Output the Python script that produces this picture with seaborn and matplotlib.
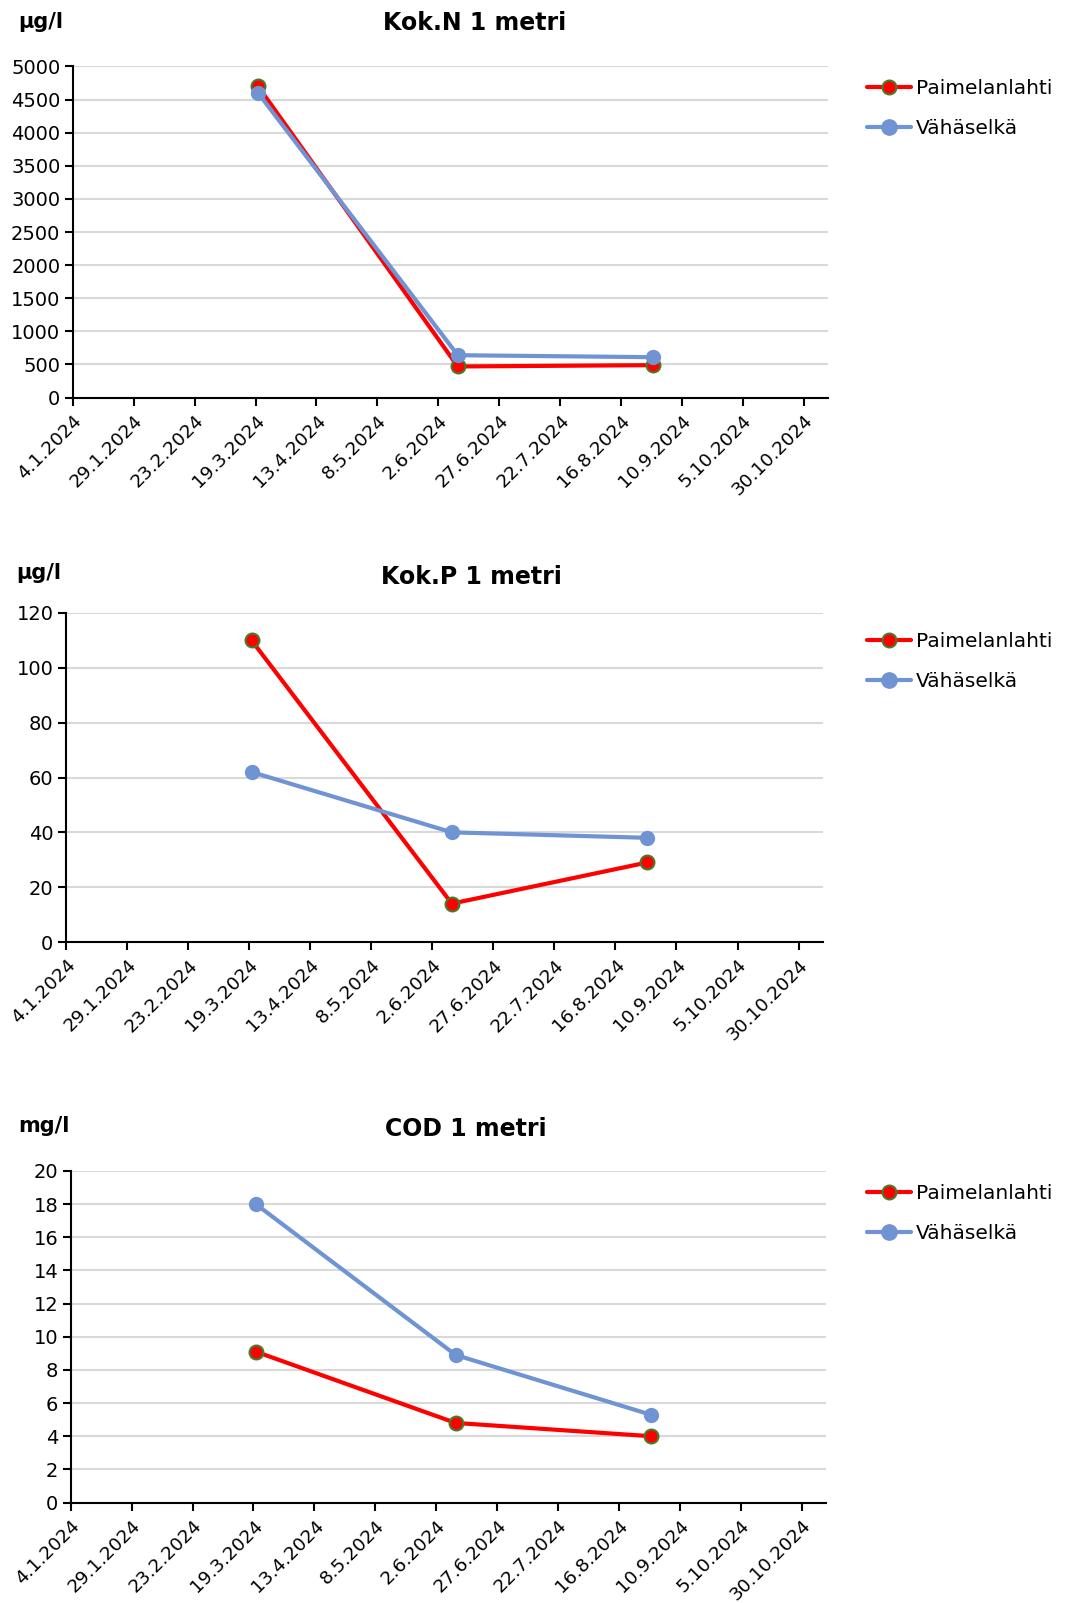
import matplotlib
matplotlib.use("Agg")
import matplotlib.pyplot as plt
import seaborn as sns
import pandas as pd
import numpy as np
from matplotlib.lines import Line2D

sns.set_theme(style="white")
plt.rcParams['font.family'] = ['DejaVu Sans']

# ---- data ----
sample_dates = ["2024-03-20", "2024-06-10", "2024-08-29"]
sites = ["Paimelanlahti", "Vähäselkä"]

kokN_paimelanlahti = [4700, 470, 490]
kokN_vahaselka = [4600, 640, 610]

kokP_paimelanlahti = [110, 14, 29]
kokP_vahaselka = [62, 40, 38]

cod_paimelanlahti = [9.1, 4.8, 4.0]
cod_vahaselka = [18, 8.9, 5.3]

titles = ["Kok.N 1 metri", "Kok.P 1 metri", "COD 1 metri"]
units = ["µg/l", "µg/l", "mg/l"]
ymaxes = [5000, 120, 20]
ysteps = [500, 20, 2]

tick_start = "2024-01-04"
n_ticks = 13
tick_step_days = 25
x_end = "2024-11-09"

series = [
    (kokN_paimelanlahti, kokN_vahaselka),
    (kokP_paimelanlahti, kokP_vahaselka),
    (cod_paimelanlahti, cod_vahaselka),
]

W, H = 1072, 1603
fig = plt.figure(figsize=(W / 100, H / 100), dpi=100)

# pixel boxes: left, right, top, bottom
boxes = [
    (72.9, 828, 66.4, 397.6),
    (66.0, 823, 613, 942),
    (70.7, 826, 1171, 1502.5),
]
title_pos = [(475, 23.5), (471, 577), (466, 1129.5)]
unit_pos = [(41, 22.5), (39, 573), (44, 1126)]
legend_pos = [(867, 79), (867, 632), (867, 1184)]

red = "#ff0000"
red_edge = "#4a7a2a"
blue = "#6f93d3"

ticks = pd.date_range(tick_start, periods=n_ticks, freq=f"{tick_step_days}D")

for i, (pa, va) in enumerate(series):
    l, r, t, b = boxes[i]
    ax = fig.add_axes([l / W, 1 - b / H, (r - l) / W, (b - t) / H])
    df = pd.DataFrame({
        "date": pd.to_datetime(sample_dates * 2),
        "value": list(pa) + list(va),
        "site": [sites[0]] * 3 + [sites[1]] * 3,
    })
    sns.lineplot(data=df[df.site == sites[0]], x="date", y="value", ax=ax,
                 color=red, linewidth=3, marker="o", markersize=10,
                 markerfacecolor=red, markeredgecolor=red_edge, markeredgewidth=1.5,
                 legend=False, zorder=3)
    sns.lineplot(data=df[df.site == sites[1]], x="date", y="value", ax=ax,
                 color=blue, linewidth=3, marker="o", markersize=11,
                 markerfacecolor=blue, markeredgecolor=blue, markeredgewidth=0,
                 legend=False, zorder=4)
    ax.set_xlim(pd.Timestamp(tick_start), pd.Timestamp(x_end))
    ax.set_ylim(0, ymaxes[i])
    ax.set_yticks(np.arange(0, ymaxes[i] + ysteps[i] / 2, ysteps[i]))
    ax.set_xticks(ticks)
    ax.set_xticklabels([f"{d.day}.{d.month}.{d.year}" for d in ticks],
                       rotation=45, ha="right", rotation_mode="anchor")
    ax.set_xlabel("")
    ax.set_ylabel("")
    ax.grid(axis="y", color="#d9d9d9", linewidth=1.5)
    ax.grid(axis="x", visible=False)
    for s in ["top", "right"]:
        ax.spines[s].set_visible(False)
    for s in ["left", "bottom"]:
        ax.spines[s].set_color("black")
        ax.spines[s].set_linewidth(1.5)
    ax.tick_params(axis="both", colors="black", direction="out",
                   length=6, width=1.5, left=True, bottom=True)
    ax.tick_params(axis="y", labelsize=14, pad=3)
    ax.tick_params(axis="x", labelsize=13.3, pad=4)
    ax.set_axisbelow(True)

    tx, ty = title_pos[i]
    fig.text(tx / W, 1 - ty / H, titles[i], ha="center", va="center",
             fontsize=17, fontweight="bold", color="black")
    ux, uy = unit_pos[i]
    fig.text(ux / W, 1 - uy / H, units[i], ha="center", va="center",
             fontsize=15, fontweight="bold", color="black")

    handles = [
        Line2D([], [], color=red, linewidth=3, marker="o", markersize=10,
               markerfacecolor=red, markeredgecolor=red_edge, markeredgewidth=1.5),
        Line2D([], [], color=blue, linewidth=3, marker="o", markersize=11,
               markerfacecolor=blue, markeredgecolor=blue),
    ]
    lx, ly = legend_pos[i]
    leg = fig.legend(handles, sites, loc="upper left",
                     bbox_to_anchor=(lx / W, 1 - ly / H), frameon=False,
                     fontsize=14.5, handlelength=2.2, handletextpad=0.25,
                     labelspacing=1.05, borderaxespad=0, borderpad=0)
    for txt in leg.get_texts():
        txt.set_color("black")

fig.savefig("out.png", dpi=100)
